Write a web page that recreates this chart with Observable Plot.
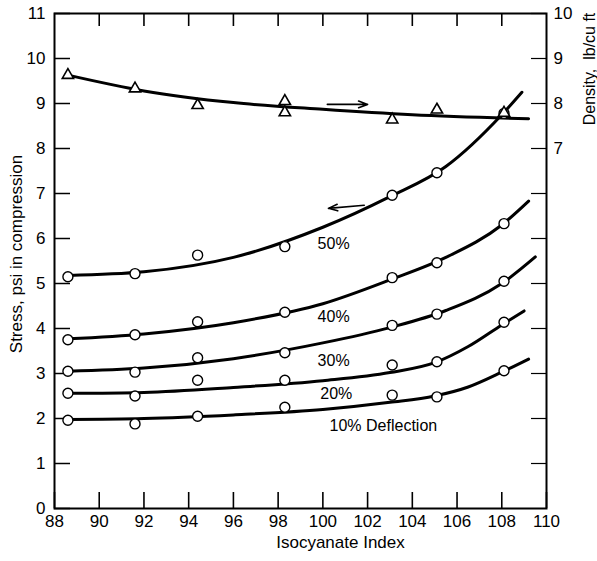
<!DOCTYPE html>
<html><head><meta charset="utf-8">
<script src="https://cdn.jsdelivr.net/npm/d3@7"></script>
<script src="https://cdn.jsdelivr.net/npm/@observablehq/plot@0.6"></script>
<style>body{margin:0;background:#fff} svg{display:block}</style>
</head><body><div id="chart"></div>
<script>
// ---- data ----
const isoIndex = [88.6, 91.6, 94.4, 98.3, 103.1, 105.1, 108.1];
const pts50 = [5.15, 5.22, 5.63, 5.82, 6.96, 7.46, 8.78];
const pts40 = [3.75, 3.86, 4.15, 4.36, 5.13, 5.46, 6.33];
const pts30 = [3.05, 3.03, 3.35, 3.46, 4.07, 4.32, 5.05];
const pts20 = [2.56, 2.50, 2.85, 2.85, 3.19, 3.26, 4.14];
const pts10 = [1.96, 1.88, 2.05, 2.25, 2.52, 2.48, 3.06];

// fitted curves
const fit50x = [88.6, 92, 96, 100, 103, 105.5, 108, 108.9];
const fit50 = [5.18, 5.26, 5.58, 6.25, 6.93, 7.60, 8.75, 9.25];
const fit40x = [88.6, 92, 96, 100, 103, 105.5, 108, 109.2];
const fit40 = [3.77, 3.88, 4.13, 4.55, 5.08, 5.58, 6.30, 6.83];
const fit30x = [88.6, 92, 96, 100, 103, 105.5, 108, 109.5];
const fit30 = [3.05, 3.12, 3.33, 3.68, 4.02, 4.40, 5.00, 5.59];
const fit20x = [88.6, 92, 96, 100, 103, 105, 106.5, 108, 109];
const fit20 = [2.56, 2.58, 2.69, 2.84, 3.02, 3.24, 3.60, 4.08, 4.39];
const fit10x = [88.6, 92, 96, 100, 103, 105, 106.5, 108, 109.2];
const fit10 = [1.98, 2.00, 2.08, 2.20, 2.36, 2.50, 2.70, 3.03, 3.32];

// density (right axis, lb/cu ft)
const densX = [88.6, 91.6, 94.4, 98.3, 98.3, 103.1, 105.1, 108.1];
const density = [8.63, 8.33, 7.96, 8.05, 7.80, 7.64, 7.86, 7.79];
const densFitX = [88.6, 92, 96, 100, 104, 109.2];
const densFit = [8.63, 8.28, 8.02, 7.87, 7.75, 7.66];

const deflections = ["50%", "40%", "30%", "20%", "10%"];
const xTicks = [88, 90, 92, 94, 96, 98, 100, 102, 104, 106, 108, 110];
const topTicks = [90, 92, 94, 96, 98, 100, 102, 104, 106, 108];
const stressTicks = [0, 1, 2, 3, 4, 5, 6, 7, 8, 9, 10, 11];
const densityTicks = [0, 1, 2, 3, 4, 5, 6, 7, 8, 9, 10];
const densityLabels = [7, 8, 9, 10];

// ---- tables built from the arrays ----
const ptsSeries = [pts50, pts40, pts30, pts20, pts10];
const fitSeries = [[fit50x, fit50], [fit40x, fit40], [fit30x, fit30], [fit20x, fit20], [fit10x, fit10]];
const pointRows = ptsSeries.flatMap((s, i) => s.map((v, j) => ({series: deflections[i], x: isoIndex[j], y: v})));
const fitRows = fitSeries.flatMap(([xs, ys], i) => xs.map((x, j) => ({series: deflections[i], x, y: ys[j]})));
const densRows = densX.map((x, i) => ({x, density: density[i]}));
const densFitRows = densFitX.map((x, i) => ({x, density: densFit[i]}));
// density axis: 0..10 lb/cu ft spans stress 1..11
const densToY = d => d + 1;

const FONT = '"Liberation Sans", Arial, sans-serif';
const W = 597, H = 561, ML = 54, MR = 51, MT = 13, MB = 53;
const PW = W - ML - MR, PH = H - MT - MB;

const chart = Plot.plot({
  width: W, height: H,
  marginLeft: ML, marginRight: MR, marginTop: MT, marginBottom: MB,
  x: {domain: [88, 110]},
  y: {domain: [0, 11]},
  style: {fontFamily: FONT, fontSize: "17px", background: "white", color: "black"},
  marks: [
    Plot.frame({stroke: "black", strokeWidth: 2}),
    // inward ticks
    Plot.tickX(xTicks, {x: d => d, insetTop: PH - 16, stroke: "black", strokeWidth: 1.6}),
    Plot.tickX(topTicks, {x: d => d, insetBottom: PH - 13, stroke: "black", strokeWidth: 1.6}),
    Plot.tickY(stressTicks, {y: d => d, insetRight: PW - 16, stroke: "black", strokeWidth: 1.5}),
    Plot.tickY(densityTicks, {y: d => densToY(d), insetLeft: PW - 15, stroke: "black", strokeWidth: 1.2}),
    // tick labels
    Plot.axisX(xTicks, {anchor: "bottom", tickSize: 0, tickPadding: 6, fontSize: 17, label: null}),
    Plot.axisY(stressTicks, {anchor: "left", tickSize: 0, tickPadding: 9, fontSize: 17, label: null}),
    Plot.axisY(densityLabels.map(densToY), {anchor: "right", tickSize: 0, tickPadding: 7, fontSize: 17, tickFormat: d => String(d - 1), label: null}),
    // axis titles
    Plot.text(["Stress, psi in compression"], {frameAnchor: "left", textAnchor: "middle", lineAnchor: "middle", dx: -38, dy: -7, rotate: -90, fontSize: 17}),
    Plot.text(["Isocyanate Index"], {frameAnchor: "bottom", textAnchor: "middle", dx: 40, dy: 39, fontSize: 17}),
    Plot.text(["Density,  lb/cu ft"], {frameAnchor: "right", textAnchor: "middle", lineAnchor: "middle", dx: 43, dy: -192, rotate: -90, fontSize: 16}),
    // curves
    Plot.line(fitRows, {x: "x", y: "y", z: "series", curve: "monotone-x", stroke: "black", strokeWidth: 3}),
    Plot.line(densFitRows, {x: "x", y: d => densToY(d.density), curve: "monotone-x", stroke: "black", strokeWidth: 3}),
    // points
    Plot.dot(pointRows, {x: "x", y: "y", r: 5, fill: "white", stroke: "black", strokeWidth: 1.4}),
    Plot.dot(densRows, {x: "x", y: d => densToY(d.density), symbol: "triangle", r: 4.2, fill: "white", stroke: "black", strokeWidth: 1.6}),
    // arrows
    Plot.arrow([0], {x1: 100.2, y1: 8.98, x2: 102.0, y2: 8.98, stroke: "black", strokeWidth: 1.6, headLength: 9, headAngle: 40}),
    Plot.arrow([0], {x1: 101.85, y1: 6.74, x2: 100.25, y2: 6.67, stroke: "black", strokeWidth: 1.6, headLength: 9, headAngle: 40}),
    // curve labels
    Plot.text([deflections[0]], {x: 100.48, y: 5.88, fontSize: 16}),
    Plot.text([deflections[1]], {x: 100.48, y: 4.26, fontSize: 16}),
    Plot.text([deflections[2]], {x: 100.48, y: 3.28, fontSize: 16}),
    Plot.text([deflections[3]], {x: 100.6, y: 2.55, fontSize: 16}),
    Plot.text([deflections[4] + " Deflection"], {x: 100.3, y: 1.84, textAnchor: "start", fontSize: 16})
  ]
});
document.getElementById("chart").append(chart);
</script>
</body></html>
